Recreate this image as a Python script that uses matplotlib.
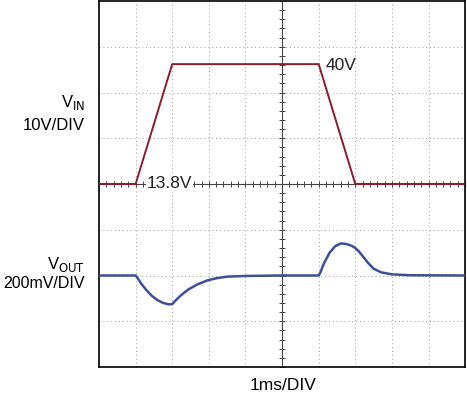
import numpy as np
import matplotlib.pyplot as plt

plt.rcParams['font.family'] = ['Liberation Sans', 'DejaVu Sans']

# time in ms (1 ms/div, 10 div), VIN in volts, VOUT deviation in mV
vin_t = [0.0, 1.0, 2.0, 6.0, 7.0, 10.0]
vin_v = [13.8, 13.8, 40.0, 40.0, 13.8, 13.8]

vout_t = [0.0, 1.0, 1.05, 1.15, 1.3, 1.45, 1.6, 1.75, 1.9, 2.0, 2.1, 2.25, 2.45, 2.7, 2.95,
          3.2, 3.5, 4.0, 5.0, 6.0, 6.05, 6.15, 6.3, 6.45, 6.6, 6.75, 6.9, 7.0, 7.1, 7.2,
          7.35, 7.5, 7.7, 8.0, 8.5, 10.0]
vout_mv = [0, 0, -10, -35, -65, -90, -108, -120, -126, -125, -108, -85, -60, -38, -22,
           -12, -5, -2, 0, 0, 15, 55, 100, 128, 140, 138, 130, 120, 105, 85,
           55, 30, 14, 5, 1, 0]

VIN_DIV = 10.0   # V/div
VIN_REF = 13.8   # sits on center line
VOUT_DIV = 200.0  # mV/div
VOUT_REF = 2.0   # baseline division

fig = plt.figure(figsize=(4.67, 4.0), dpi=100)
ax = fig.add_axes([0.212, 0.0825, 0.784, 0.915])
ax.set_xlim(0, 10)
ax.set_ylim(0, 8)

for x in range(1, 10):
    ax.axvline(x, color='#999999', ls=(0, (1, 3)), lw=0.7, zorder=0)
for y in range(1, 8):
    ax.axhline(y, color='#999999', ls=(0, (1, 3)), lw=0.7, zorder=0)
ax.axvline(5, color='#444444', lw=0.8, zorder=1)
ax.axhline(4, color='#444444', lw=0.8, zorder=1)
ticks = np.arange(0, 10.01, 0.2)
ax.plot(ticks, np.full_like(ticks, 4), '|', color='#444444', ms=4, mew=0.7, zorder=1)
ticks_y = np.arange(0, 8.01, 0.2)
ax.plot(np.full_like(ticks_y, 5), ticks_y, '_', color='#444444', ms=4, mew=0.7, zorder=1)

vin_y = [4 + (v - VIN_REF) / VIN_DIV for v in vin_v]
ax.plot(vin_t, vin_y, color='#8b1c2c', lw=1.4, zorder=3)
vout_y = [VOUT_REF + m / VOUT_DIV for m in vout_mv]
ax.plot(vout_t, vout_y, color='#3b4f9c', lw=1.8, zorder=3)

ax.set_xticks([])
ax.set_yticks([])
for s in ax.spines.values():
    s.set_linewidth(1.2)

ax.text(6.2, 6.6, '40V', fontsize=12.5, va='center', ha='left', color='#222222')
ax.text(1.3, 4.0, '13.8V', fontsize=12.5, va='center', ha='left', color='#222222',
        bbox=dict(facecolor='white', edgecolor='none', pad=0.5), zorder=4)

fig.text(0.182, 0.745, r'V$_{\mathrm{IN}}$', fontsize=12, ha='right', va='center')
fig.text(0.182, 0.685, '10V/DIV', fontsize=12, ha='right', va='center')
fig.text(0.182, 0.34, r'V$_{\mathrm{OUT}}$', fontsize=12, ha='right', va='center')
fig.text(0.182, 0.292, '200mV/DIV', fontsize=11.5, ha='right', va='center')
fig.text(0.606, 0.037, '1ms/DIV', fontsize=12.5, ha='center', va='center')

fig.savefig('out.png', dpi=100)
